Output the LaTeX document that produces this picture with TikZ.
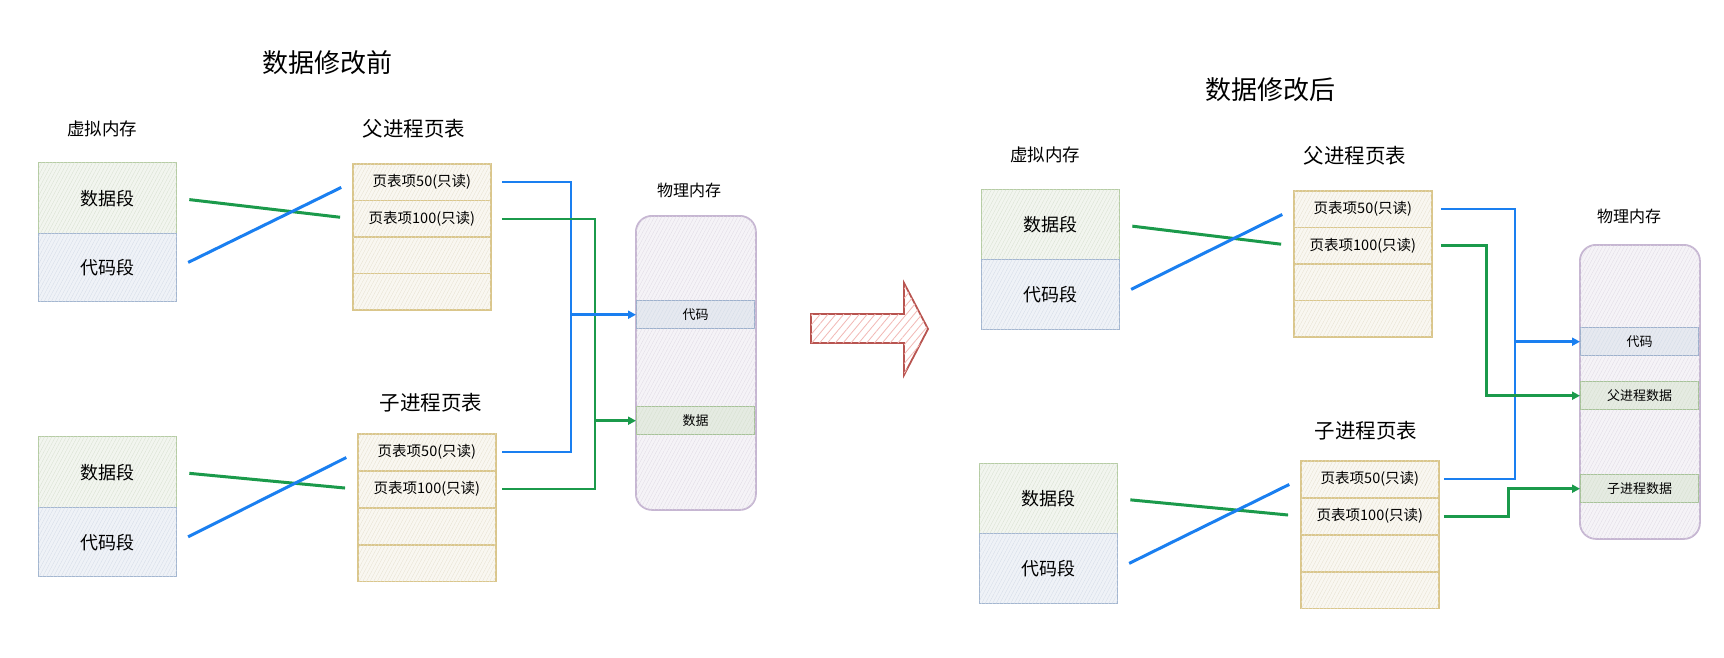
\documentclass[tikz,border=0pt]{standalone}
\usepackage{fontspec}
\setmainfont{Noto Sans CJK SC}
\usetikzlibrary{arrows.meta,patterns.meta}
\definecolor{gfill}{HTML}{F2F5EF}
\definecolor{ghatch}{HTML}{D6DFCF}
\definecolor{gline}{HTML}{B5CCA3}
\definecolor{bfill}{HTML}{EFF2F7}
\definecolor{bhatch}{HTML}{D3DBE7}
\definecolor{bline}{HTML}{A3B6D0}
\definecolor{yfill}{HTML}{F9F7F1}
\definecolor{yhatch}{HTML}{E6E0CE}
\definecolor{yline}{HTML}{DAC68B}
\definecolor{pfill}{HTML}{F5F3F7}
\definecolor{phatch}{HTML}{DFDAE4}
\definecolor{pline}{HTML}{C6B6D2}
\definecolor{cfill}{HTML}{E6E9F0}
\definecolor{cline}{HTML}{9DB0CC}
\definecolor{dfill}{HTML}{E5EBE2}
\definecolor{dline}{HTML}{A6C298}
\definecolor{conblue}{HTML}{1A7FF0}
\definecolor{congreen}{HTML}{1B9A4B}
\definecolor{ared}{HTML}{B85450}
\definecolor{ahatch}{HTML}{F2B8B5}
\tikzset{
  box/.style={draw, line width=1.4pt, inner sep=0pt, anchor=north west},
  hatch/.style={postaction={pattern={Lines[angle=62,distance=3.2pt,line width=0.3pt]}, pattern color=#1}},
  gbox/.style={box, draw=gline, fill=gfill, hatch=ghatch, minimum width=138, font=\fontsize{18}{21}\selectfont},
  bbox/.style={box, draw=bline, fill=bfill, hatch=bhatch, minimum width=138, font=\fontsize{18}{21}\selectfont},
  ybox/.style={box, line width=1.8pt, draw=yline, fill=yfill, hatch=yhatch, minimum width=138, minimum height=36.5, font=\fontsize{14.5}{17}\selectfont},
  pbox/.style={box, line width=1.8pt, draw=pline, fill=pfill, hatch=phatch, rounded corners=16pt, minimum width=120, minimum height=294},
  cbox/.style={box, draw=cline, fill=cfill, hatch=bhatch, minimum width=118, minimum height=28, font=\fontsize{13}{15}\selectfont},
  dbox/.style={box, draw=dline, fill=dfill, hatch=ghatch, minimum width=118, minimum height=28, font=\fontsize{13}{15}\selectfont},
  ttl/.style={font=\fontsize{26}{30}\selectfont},
  lbl/.style={font=\fontsize{17.5}{20}\selectfont},
  tlbl/.style={font=\fontsize{20.5}{24}\selectfont},
  plbl/.style={font=\fontsize{16}{19}\selectfont},
  cross/.style={line width=3pt, shorten <=12pt, shorten >=12pt},
  ortho/.style={line width=2pt},
  arr/.style={line width=2.6pt, -{Triangle[length=8pt,width=8pt]}},
}
\begin{document}
\begin{tikzpicture}[x=1pt,y=-1pt]
\useasboundingbox (0,0) rectangle (1724,657);
% ================= LEFT =================
\node[ttl] (Ltitle) at (327,63) {数据修改前};
\node[lbl] (Lvlabel) at (102,129) {虚拟内存};
\node[tlbl] (Lplabel) at (414,129) {父进程页表};
\node[plbl] (Lmlabel) at (689,190) {物理内存};
\node[tlbl] (Lclabel) at (431,403) {子进程页表};
% virtual memory (top)
\node[gbox, minimum height=71] (L1d) at (38,162) {数据段};
\node[bbox, minimum height=68] (L1c) at (38,233) {代码段};
% virtual memory (bottom)
\node[gbox, minimum height=71] (L2d) at (38,436) {数据段};
\node[bbox, minimum height=69] (L2c) at (38,507) {代码段};
% parent page table
\node[ybox] (LP50) at (352,163) {页表项50(只读)};
\node[ybox] (LP100) at (352,199.5) {页表项100(只读)};
\node[ybox] (LP3) at (352,236) {};
\node[ybox] (LP4) at (352,272.5) {};
% child page table
\node[ybox] (LC50) at (357,433) {页表项50(只读)};
\node[ybox] (LC100) at (357,470) {页表项100(只读)};
\node[ybox] (LC3) at (357,507) {};
\node[ybox] (LC4) at (357,544) {};
% physical memory
\node[pbox] (Lphys) at (635,215) {};
\node[cbox] (Lcode) at (636,300) {代码};
\node[dbox] (Ldata) at (636,406) {数据};
% crossing mappings
\draw[cross, congreen] (L1d.east) -- (LP100.west);
\draw[cross, conblue] (L1c.east) -- (LP50.west);
\draw[cross, congreen] (L2d.east) -- (LC100.west);
\draw[cross, conblue] (L2c.east) -- (LC50.west);
% to physical memory
\coordinate (Lbx) at (571,0);
\coordinate (Lgx) at (595,0);
\draw[ortho, conblue] ([xshift=10pt]LP50.east) -| (Lbx |- LC50.east) -- ([xshift=5pt]LC50.east);
\draw[ortho, congreen] ([xshift=10pt]LP100.east) -| (Lgx |- LC100.east) -- ([xshift=5pt]LC100.east);
\draw[arr, conblue] (Lbx |- Lcode.west) -- (Lcode.west);
\draw[arr, congreen] (Lgx |- Ldata.west) -- (Ldata.west);
% ================= BIG ARROW =================
\draw[ared, line width=1.8pt, line join=miter, fill=white, postaction={pattern={Lines[angle=50,distance=6pt,line width=0.8pt]}, pattern color=ahatch}]
  (811,314) -- (904,314) -- (904,283) -- (928,329) -- (904,375) -- (904,343) -- (811,343) -- cycle;
% ================= RIGHT =================
\node[ttl] (Rtitle) at (1270,90) {数据修改后};
\node[lbl] (Rvlabel) at (1045,155) {虚拟内存};
\node[tlbl] (Rplabel) at (1355,156) {父进程页表};
\node[plbl] (Rmlabel) at (1629,216) {物理内存};
\node[tlbl] (Rclabel) at (1366,431) {子进程页表};
% virtual memory (top)
\node[gbox, minimum height=70] (R1d) at (981,189) {数据段};
\node[bbox, minimum height=70] (R1c) at (981,259) {代码段};
% virtual memory (bottom)
\node[gbox, minimum height=70] (R2d) at (979,463) {数据段};
\node[bbox, minimum height=70] (R2c) at (979,533) {代码段};
% parent page table
\node[ybox] (RP50) at (1293,190) {页表项50(只读)};
\node[ybox] (RP100) at (1293,226.5) {页表项100(只读)};
\node[ybox] (RP3) at (1293,263) {};
\node[ybox] (RP4) at (1293,299.5) {};
% child page table
\node[ybox] (RC50) at (1300,460) {页表项50(只读)};
\node[ybox] (RC100) at (1300,497) {页表项100(只读)};
\node[ybox] (RC3) at (1300,534) {};
\node[ybox] (RC4) at (1300,571) {};
% physical memory
\node[pbox] (Rphys) at (1579,244) {};
\node[cbox] (Rcode) at (1580,327) {代码};
\node[dbox] (Rpdata) at (1580,381) {父进程数据};
\node[dbox] (Rcdata) at (1580,474) {子进程数据};
% crossing mappings
\draw[cross, congreen] (R1d.east) -- (RP100.west);
\draw[cross, conblue] (R1c.east) -- (RP50.west);
\draw[cross, congreen] (R2d.east) -- (RC100.west);
\draw[cross, conblue] (R2c.east) -- (RC50.west);
% to physical memory
\coordinate (Rbx) at (1515,0);
\coordinate (Rgx) at (1486,0);
\coordinate (Rcx) at (1508,0);
\draw[ortho, conblue] ([xshift=8pt]RP50.east) -| (Rbx |- RC50.east) -- ([xshift=4pt]RC50.east);
\draw[arr, conblue] (Rbx |- Rcode.west) -- (Rcode.west);
\draw[arr, congreen, line width=3pt] ([xshift=8pt]RP100.east) -| (Rgx |- Rpdata.west) -- (Rpdata.west);
\draw[arr, congreen, line width=3pt] ([xshift=4pt]RC100.east) -| (Rcx |- Rcdata.west) -- (Rcdata.west);
\end{tikzpicture}
\end{document}
